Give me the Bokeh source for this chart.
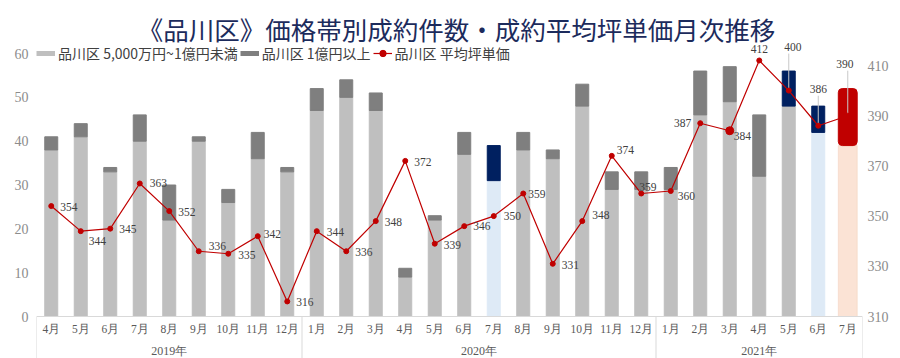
from bokeh.plotting import figure
from bokeh.models import (FactorRange, Range1d, LinearAxis, FixedTicker, ColumnDataSource,
                          LabelSet, Label, Legend, LegendItem)
from bokeh.embed import file_html
from bokeh.resources import INLINE

# ---------------- data ----------------
years = ["2019年"] * 9 + ["2020年"] * 12 + ["2021年"] * 7
months = ["4月", "5月", "6月", "7月", "8月", "9月", "10月", "11月", "12月",
          "1月", "2月", "3月", "4月", "5月", "6月", "7月", "8月", "9月", "10月", "11月", "12月",
          "1月", "2月", "3月", "4月", "5月", "6月", "7月"]
count_5000_1oku = [38, 41, 33, 40, 22, 40, 26, 36, 33,
                   47, 50, 47, 9, 22, 37, 31, 38, 36, 48, 29, 29,
                   29, 46, 49, 32, 48, 42, 39]
count_over_1oku = [3, 3, 1, 6, 8, 1, 3, 6, 1,
                   5, 4, 4, 2, 1, 5, 8, 4, 2, 5, 4, 4,
                   5, 10, 8, 14, 8, 6, 13]
avg_tsubo = [354, 344, 345, 363, 352, 336, 335, 342, 316,
             344, 336, 348, 372, 339, 346, 350, 359, 331, 348, 374, 359,
             360, 387, 384, 412, 400, 386, 390]
left_ticks = [0, 10, 20, 30, 40, 50, 60]
right_ticks = [310, 330, 350, 370, 390, 410]

series_names = ["品川区 5,000万円~1億円未満", "品川区 1億円以上", "品川区 平均坪単価"]
title_text = "《品川区》価格帯別成約件数・成約平均坪単価月次推移"

# ---------------- styles ----------------
LIGHT, DARK = "#bfbfbf", "#7f7f7f"
highlight = {
    ("2020年", "7月"): ("#deeaf6", "#002060"),
    ("2021年", "5月"): (LIGHT, "#002060"),
    ("2021年", "6月"): ("#deeaf6", "#002060"),
    ("2021年", "7月"): ("#fbe3d5", "#c00000"),
}
# label offsets in px (dx, dy up) and alignment
lab_dx = [9, 8, 9, 10, 9, 10, 10, 6, 9,
          10, 9, 9, 9, 9, 9, 10, 5, 9, 10, 5, -2,
          7, -9, 4, 0, 4, 0, -3]
lab_dy = [-1, -10, 0, 0, -1, 5, -1, 2, -1,
          -1, -1, -1, -1, -1, 0, 0, 0, -1, 6, 6, 7,
          -5, 0, -5, 11, 44, 37, 52]
lab_align = ["left"] * 22 + ["right", "left", "center", "center", "center", "center"]
leader = [False] * 25 + [True, True, True]
marker_size = [5] * 23 + [8] + [5] * 4

factors = list(zip(years, months))
n = len(factors)
tops2 = [a + b for a, b in zip(count_5000_1oku, count_over_1oku)]
light_colors = [highlight.get(f, (LIGHT, DARK))[0] for f in factors]
dark_colors = [highlight.get(f, (LIGHT, DARK))[1] for f in factors]

# group boundaries (synthetic categorical coordinates) for separator lines
bounds = [0]
for y in dict.fromkeys(years):
    bounds.append(bounds[-1] + years.count(y))

# ---------------- layout ----------------
W, H = 900, 358
BORDER_L, BORDER_R = 36, 38
BELOW_ZERO = 42          # px between value 0 and frame bottom (axis area)
ABOVE_ZERO = H - BELOW_ZERO
PPU_L, PPU_R = 4.383, 2.51
L_MIN, L_MAX = -BELOW_ZERO / PPU_L, ABOVE_ZERO / PPU_L
R_MIN, R_MAX = 310 - BELOW_ZERO / PPU_R, 310 + ABOVE_ZERO / PPU_R

main_idx = list(range(n - 1))
last_idx = [n - 1]

def sub(lst, idx):
    return [lst[i] for i in idx]

src_main = ColumnDataSource(dict(
    x=sub(factors, main_idx), light=sub(count_5000_1oku, main_idx), top=sub(tops2, main_idx),
    lc=sub(light_colors, main_idx), dc=sub(dark_colors, main_idx)))
src_last = ColumnDataSource(dict(
    x=sub(factors, last_idx), light=sub(count_5000_1oku, last_idx), top=sub(tops2, last_idx),
    lc=sub(light_colors, last_idx), dc=sub(dark_colors, last_idx)))

p = figure(width=W, height=H, output_backend="svg", toolbar_location=None,
           x_range=FactorRange(factors=factors, group_padding=0, range_padding=0, factor_padding=0),
           y_range=Range1d(L_MIN, L_MAX),
           min_border_left=BORDER_L, min_border_right=BORDER_R, min_border_top=0,
           min_border_bottom=0)
p.extra_y_ranges = {"right": Range1d(R_MIN, R_MAX)}

p.outline_line_color = None
p.grid.visible = False
p.background_fill_color = "white"
p.border_fill_color = "white"

# title (inside the frame, top)
p.add_layout(Label(x=420, y=H - 28, x_units="screen", y_units="screen", text=title_text,
                   text_align="center", text_baseline="middle", text_font="Noto Sans CJK JP",
                   text_font_size="25.5px", text_color="#1c2b5c"))

# group separator lines below the axis
p.segment(x0=bounds, y0=[0] * len(bounds), x1=bounds, y1=[L_MIN] * len(bounds),
          line_color="#d9d9d9", line_width=1)

# bars
p.vbar(x="x", bottom=0, top="light", width=0.44, fill_color="lc", line_color="lc", source=src_main)
p.vbar(x="x", bottom="light", top="top", width=0.44, fill_color="dc", line_color="dc", source=src_main)
p.vbar(x="x", bottom=0, top="light", width=0.64, fill_color="lc", line_color="#f3d3c0",
       line_width=0.6, source=src_last)
p.vbar(x="x", bottom="light", top="top", width=0.64, fill_color="dc", line_color="dc",
       border_radius=4, source=src_last)

# line
line_src = ColumnDataSource(dict(x=factors, y=avg_tsubo, t=[str(v) for v in avg_tsubo],
                                 dx=lab_dx, dy=lab_dy, al=lab_align, ms=marker_size))
ln = p.line(x="x", y="y", source=line_src, y_range_name="right", line_color="#c00000", line_width=1.2)

# leader lines
lead_f = [factors[i] for i in range(n) if leader[i]]
lead_y0 = [avg_tsubo[i] for i in range(n) if leader[i]]
lead_y1 = [avg_tsubo[i] + (lab_dy[i] - 7) / PPU_R for i in range(n) if leader[i]]
p.segment(x0=lead_f, y0=lead_y0, x1=lead_f, y1=lead_y1, y_range_name="right",
          line_color="#c8c8c8", line_width=1)

sc = p.scatter(x="x", y="y", source=line_src, y_range_name="right", size="ms",
               fill_color="#c00000", line_color="#c00000")

labels = LabelSet(x="x", y="y", text="t", source=line_src, y_range_name="right",
                  x_offset="dx", y_offset="dy", text_align="al", text_baseline="middle",
                  text_font="Noto Sans", text_font_size="11.5px", text_color="#404040")
p.add_layout(labels)

# axes
la = p.left[0]
la.ticker = FixedTicker(ticks=left_ticks)
ra = LinearAxis(y_range_name="right", ticker=FixedTicker(ticks=right_ticks))
p.add_layout(ra, "right")
for ax in (la, ra):
    ax.axis_line_color = None
    ax.major_tick_line_color = None
    ax.minor_tick_line_color = None
    ax.major_tick_out = 0
    ax.major_tick_in = 0
    ax.minor_tick_out = 0
    ax.major_label_text_font = "Liberation Serif"
    ax.major_label_text_font_size = "14px"
    ax.major_label_text_color = "#8c8c8c"
la.major_label_standoff = 8
ra.major_label_standoff = 5

xa = p.below[0]
xa.fixed_location = 0
xa.axis_line_color = "#d9d9d9"
xa.major_tick_line_color = None
xa.major_tick_out = 0
xa.major_tick_in = 0
xa.major_label_text_font = "Liberation Serif"
xa.major_label_text_font_size = "11.5px"
xa.major_label_text_color = "#595959"
xa.major_label_standoff = 6
xa.group_text_font = "Liberation Serif"
xa.group_text_font_size = "12px"
xa.group_text_font_style = "normal"
xa.group_text_color = "#595959"
xa.separator_line_color = None

# legend (flat swatches: one-point lines, which draw nothing in the plot)
dl = p.line(x=factors[:1], y=count_5000_1oku[:1], line_color=LIGHT, line_width=5)
dd = p.line(x=factors[:1], y=count_over_1oku[:1], line_color=DARK, line_width=5)
legend = Legend(items=[LegendItem(label=series_names[0], renderers=[dl]),
                       LegendItem(label=series_names[1], renderers=[dd]),
                       LegendItem(label=series_names[2], renderers=[ln, sc])],
                orientation="horizontal", location=(0, H - 63),
                margin=0, padding=0, spacing=2, label_standoff=3,
                glyph_width=19, glyph_height=16, label_height=16,
                label_text_font="Noto Sans CJK JP", label_text_font_size="14px",
                label_text_color="#404040",
                background_fill_alpha=0, border_line_alpha=0)
p.add_layout(legend)

open("out.html", "w").write(file_html(p, INLINE))
